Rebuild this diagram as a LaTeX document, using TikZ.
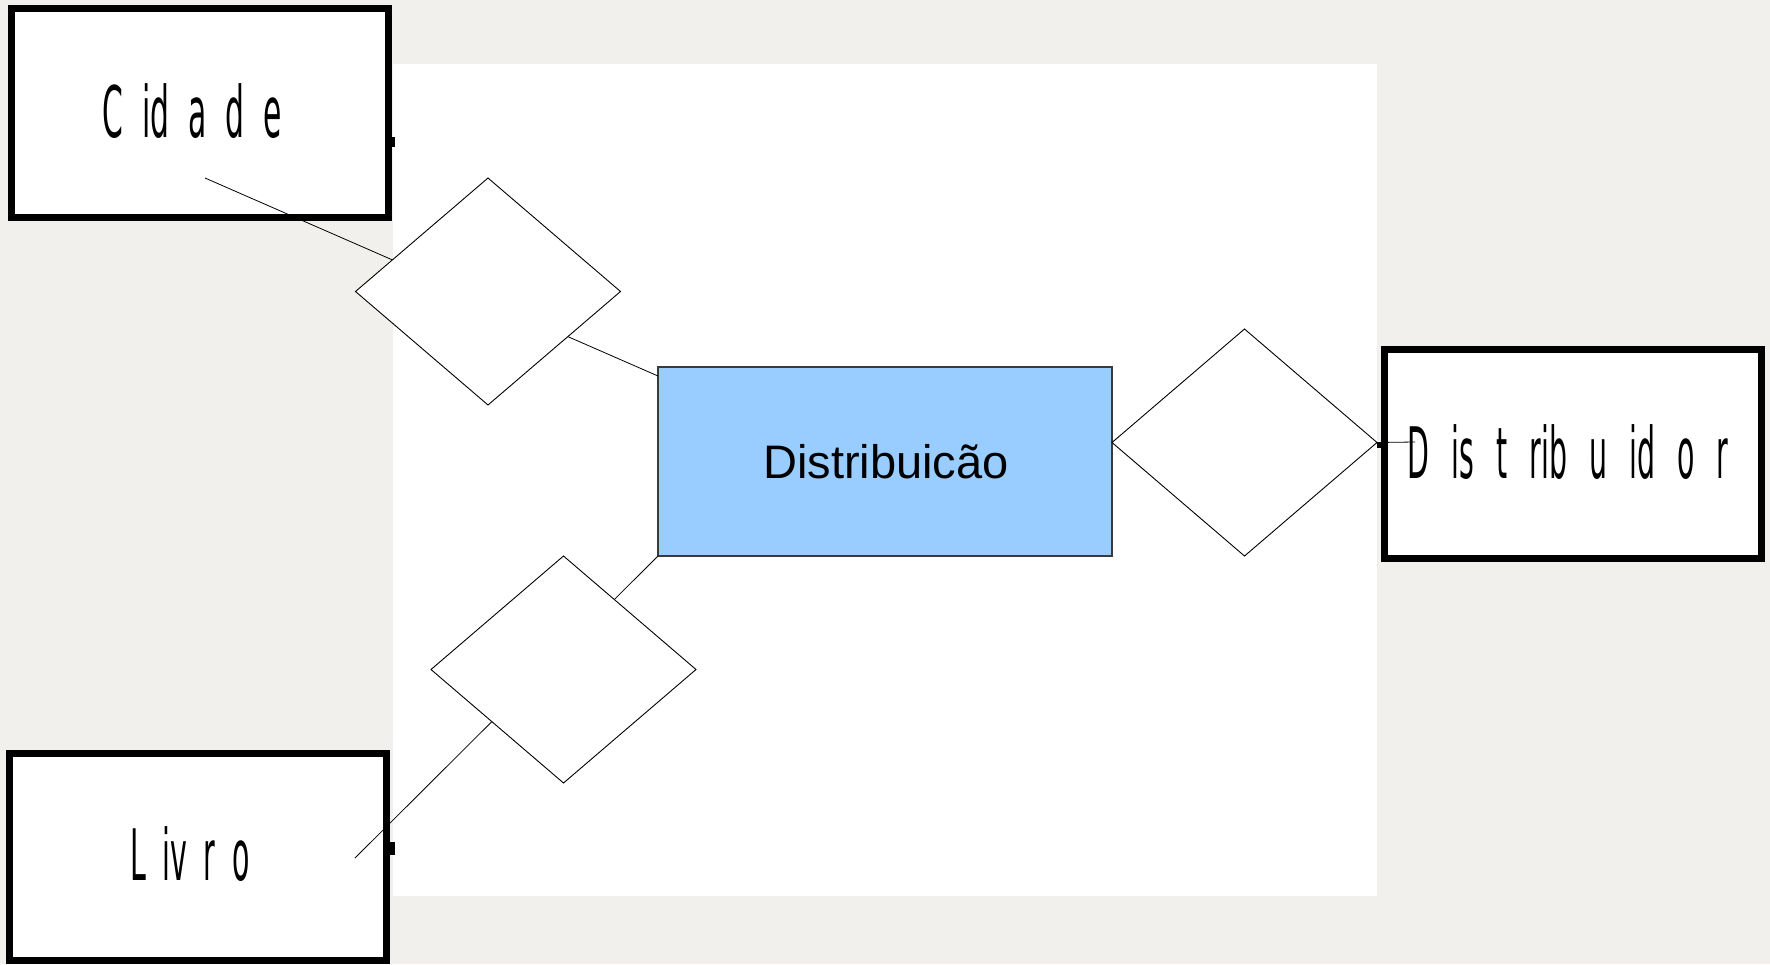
\documentclass[tikz,border=0pt]{standalone}
\usepackage{fontspec}
\setmainfont{Liberation Sans}
\newfontfamily\narrowfont{DejaVu Sans}
\usetikzlibrary{shapes.geometric}
\definecolor{bggray}{HTML}{F1F0EC}
\definecolor{entblue}{HTML}{99CCFF}
\definecolor{edgegray}{HTML}{3A3A3A}
\tikzset{
  entbox/.style={draw=black, line width=7pt, fill=white, rectangle, inner sep=0pt, outer sep=0pt},
  relbox/.style={draw=black, line width=0.9pt, fill=white, diamond, inner sep=0pt, outer sep=0pt, minimum width=265pt, minimum height=227pt},
  mainbox/.style={draw=edgegray, line width=1.4pt, fill=entblue, rectangle, inner sep=0pt, outer sep=0pt, minimum width=454pt, minimum height=189pt},
  link/.style={draw=black, line width=0.8pt},
  tick/.style={fill=black, draw=none},
  lbl/.style={anchor=base, inner sep=0pt}
}
\newcommand{\narrowtext}[3]{\scalebox{#1}[1]{\narrowfont\fontsize{71}{71}\selectfont\spaceskip=#2 #3}}
\begin{document}
\begin{tikzpicture}[x=1pt, y=-1pt]
  \useasboundingbox (0,0) rectangle (1770,964);
  \fill[bggray] (0,0) rectangle (1770,964);
  \fill[white] (393,64) rectangle (1377,896);

  % entity boxes
  \node[entbox, minimum width=377pt, minimum height=209pt] (cidade) at (199.5,113) {};
  \node[entbox, minimum width=377pt, minimum height=207pt] (livro) at (198,857) {};
  \node[entbox, minimum width=377pt, minimum height=209pt] (distribuidor) at (1573,454) {};
  \node[mainbox] (distribuicao) at (885,461.5) {};

  % ticks on borders
  \fill[tick] (391,137) rectangle (394.5,147);
  \fill[tick] (390,842) rectangle (394.5,855);
  \fill[tick] (1377,442) rectangle (1382,448);

  % connector anchors
  \coordinate (cA) at (205,178);
  \coordinate (cB) at (658,376);
  \coordinate (lA) at (355,858);
  \coordinate (dA) at (1415,442);

  \draw[link] (cA) -- (cB);
  \draw[link] (lA) -- (distribuicao.south west);

  % relationship diamonds
  \node[relbox] (rel1) at (488,291.5) {};
  \node[relbox] (rel3) at (563.5,669.5) {};
  \node[relbox] (rel2) at (1244.5,442.5) {};
  \draw[link] (rel2.east) -- (dA);

  % labels
  \node[lbl] (tCidade) at (192,137) {\narrowtext{0.42}{45pt}{C id a d e}};
  \node[lbl] (tLivro) at (190,880) {\narrowtext{0.4}{41pt}{L iv r o}};
  \node[lbl] (tDistribuidor) at (1568,478) {\narrowtext{0.4}{55pt}{D is t rib u id o r}};
  \node[lbl] (tDistribuicao) at (886,478) {\fontsize{47}{47}\selectfont Distribuicão};
\end{tikzpicture}
\end{document}
